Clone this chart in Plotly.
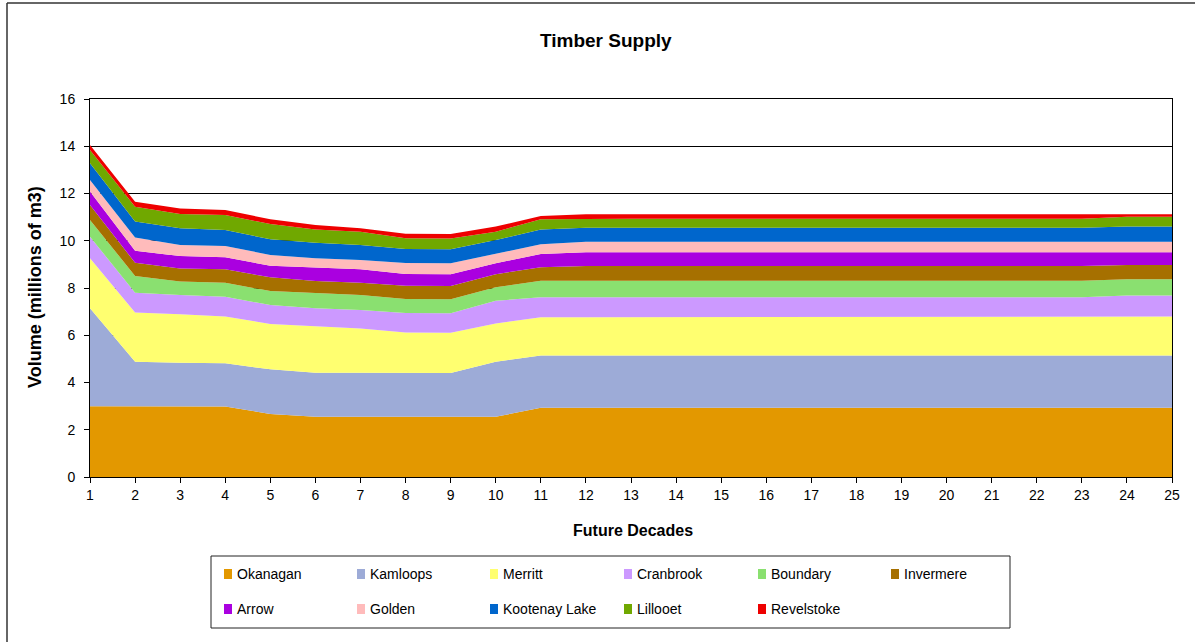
import plotly.graph_objects as go

decades = list(range(1, 26))
tick_labels = [str(d) for d in decades]

series_names = ["Okanagan", "Kamloops", "Merritt", "Cranbrook", "Boundary", "Invermere",
                "Arrow", "Golden", "Kootenay Lake", "Lillooet", "Revelstoke"]

okanagan = [3.00, 3.00, 3.00, 2.98, 2.67, 2.55, 2.55, 2.55, 2.55, 2.55, 2.93, 2.93, 2.93,
            2.93, 2.93, 2.93, 2.93, 2.93, 2.93, 2.93, 2.93, 2.93, 2.93, 2.93, 2.93]
kamloops = [4.14, 1.88, 1.84, 1.83, 1.89, 1.86, 1.86, 1.85, 1.85, 2.33, 2.21, 2.21, 2.21,
            2.21, 2.21, 2.21, 2.21, 2.21, 2.21, 2.21, 2.21, 2.21, 2.21, 2.21, 2.21]
merritt = [2.12, 2.08, 2.05, 1.98, 1.92, 1.98, 1.88, 1.72, 1.71, 1.62, 1.62, 1.62, 1.62,
           1.62, 1.62, 1.62, 1.62, 1.62, 1.62, 1.62, 1.62, 1.62, 1.62, 1.65, 1.65]
cranbrook = [0.91, 0.84, 0.81, 0.84, 0.80, 0.75, 0.78, 0.82, 0.82, 0.96, 0.85, 0.85, 0.85,
             0.85, 0.85, 0.85, 0.85, 0.85, 0.85, 0.85, 0.85, 0.85, 0.85, 0.89, 0.89]
boundary = [0.71, 0.71, 0.57, 0.59, 0.59, 0.64, 0.63, 0.59, 0.59, 0.57, 0.70, 0.70, 0.70,
            0.70, 0.70, 0.70, 0.70, 0.70, 0.70, 0.70, 0.70, 0.70, 0.70, 0.69, 0.69]
invermere = [0.63, 0.56, 0.56, 0.57, 0.58, 0.52, 0.52, 0.56, 0.56, 0.55, 0.57, 0.62, 0.62,
             0.62, 0.62, 0.62, 0.62, 0.62, 0.62, 0.62, 0.62, 0.62, 0.62, 0.60, 0.60]
arrow = [0.57, 0.51, 0.52, 0.51, 0.49, 0.58, 0.57, 0.50, 0.50, 0.47, 0.56, 0.58, 0.58,
         0.58, 0.58, 0.58, 0.58, 0.58, 0.58, 0.58, 0.58, 0.58, 0.58, 0.54, 0.54]
golden = [0.49, 0.56, 0.47, 0.48, 0.46, 0.38, 0.40, 0.47, 0.47, 0.39, 0.41, 0.45, 0.45,
          0.45, 0.45, 0.45, 0.45, 0.45, 0.45, 0.45, 0.45, 0.45, 0.45, 0.45, 0.45]
kootenay_lake = [0.71, 0.67, 0.71, 0.68, 0.66, 0.66, 0.63, 0.59, 0.59, 0.59, 0.63, 0.59, 0.59,
                 0.59, 0.59, 0.59, 0.59, 0.59, 0.59, 0.59, 0.59, 0.59, 0.59, 0.64, 0.64]
lillooet = [0.56, 0.63, 0.60, 0.63, 0.65, 0.56, 0.56, 0.46, 0.46, 0.35, 0.43, 0.38, 0.38,
            0.38, 0.38, 0.38, 0.38, 0.38, 0.38, 0.38, 0.38, 0.38, 0.38, 0.42, 0.42]
revelstoke = [0.21, 0.21, 0.24, 0.21, 0.20, 0.19, 0.15, 0.19, 0.19, 0.22, 0.14, 0.19, 0.19,
              0.19, 0.19, 0.19, 0.19, 0.19, 0.19, 0.19, 0.19, 0.19, 0.19, 0.10, 0.10]

series_values = [okanagan, kamloops, merritt, cranbrook, boundary, invermere,
                 arrow, golden, kootenay_lake, lillooet, revelstoke]

colors = ["#E39800", "#9DABD7", "#FFFF70", "#CC99FF", "#8AE070", "#A67000",
          "#AA00E0", "#FFBBBB", "#0066CC", "#70A800", "#EE0000"]

W, H = 1195, 642
L, R, T, B = 90, 1172, 99, 477
FONT = "Liberation Sans, Arial, sans-serif"


def px(x):
    return (x - L) / (R - L)


def py(y):
    return (B - y) / (B - T)


fig = go.Figure()
for name, vals, col in zip(series_names, series_values, colors):
    fig.add_trace(go.Scatter(
        x=decades, y=vals, name=name, mode="lines",
        stackgroup="one", line=dict(width=0, color=col),
        fillcolor=col, hoverinfo="x+y+name", showlegend=False))

shapes = []
annotations = []

# outer chart frame (left and top edges visible)
shapes.append(dict(type="line", xref="paper", yref="paper",
                   x0=px(7), x1=px(7), y0=py(3), y1=py(H + 5),
                   line=dict(color="#333333", width=1.5)))
shapes.append(dict(type="line", xref="paper", yref="paper",
                   x0=px(7), x1=px(W + 5), y0=py(3), y1=py(3),
                   line=dict(color="#333333", width=1.5)))

# legend box
shapes.append(dict(type="rect", xref="paper", yref="paper",
                   x0=px(211), x1=px(1010), y0=py(628), y1=py(556),
                   line=dict(color="#222222", width=1), fillcolor="white"))

col_x = [224, 357, 490, 624, 758, 891]
row_y = [574, 609]
for i, (name, col) in enumerate(zip(series_names, colors)):
    r, c = divmod(i, 6)
    sx, sy = col_x[c], row_y[r]
    shapes.append(dict(type="rect", xref="paper", yref="paper",
                       x0=px(sx), x1=px(sx + 8), y0=py(sy + 5), y1=py(sy - 5),
                       line=dict(width=0), fillcolor=col))
    annotations.append(dict(text=name, xref="paper", yref="paper",
                            x=px(sx + 11), y=py(sy), xanchor="left", yanchor="middle",
                            showarrow=False, font=dict(family=FONT, size=14, color="black")))

annotations.append(dict(text="<b>Timber Supply</b>", xref="paper", yref="paper",
                        x=px(606), y=py(40), xanchor="center", yanchor="middle",
                        showarrow=False, font=dict(family=FONT, size=19, color="black")))
annotations.append(dict(text="<b>Future Decades</b>", xref="paper", yref="paper",
                        x=px(633), y=py(530), xanchor="center", yanchor="middle",
                        showarrow=False, font=dict(family=FONT, size=16, color="black")))
annotations.append(dict(text="<b>Volume (millions of m3)</b>", xref="paper", yref="paper",
                        x=px(35), y=py(287), xanchor="center", yanchor="middle",
                        textangle=-90, showarrow=False,
                        font=dict(family=FONT, size=18, color="black")))

fig.update_layout(
    width=W, height=H, autosize=False,
    margin=dict(l=L, r=W - R, t=T, b=H - B, pad=0),
    paper_bgcolor="white", plot_bgcolor="white",
    showlegend=False,
    shapes=shapes, annotations=annotations,
    xaxis=dict(range=[1, 25], tickmode="array", tickvals=decades, ticktext=tick_labels,
               ticks="outside", ticklen=5, tickcolor="black", showgrid=False,
               showline=True, linecolor="black", linewidth=1, mirror=True,
               tickfont=dict(family=FONT, size=14, color="black"), zeroline=False),
    yaxis=dict(range=[0, 16], dtick=2, ticks="outside", ticklen=5, tickcolor="black",
               showgrid=True, gridcolor="black", gridwidth=1,
               showline=True, linecolor="black", linewidth=1, mirror=True,
               ticklabelstandoff=6,
               tickfont=dict(family=FONT, size=14, color="black"), zeroline=False),
)

fig.write_html("out.html", config={"displayModeBar": False},
               post_script="document.body.style.margin='0';document.body.style.overflow='hidden';")
